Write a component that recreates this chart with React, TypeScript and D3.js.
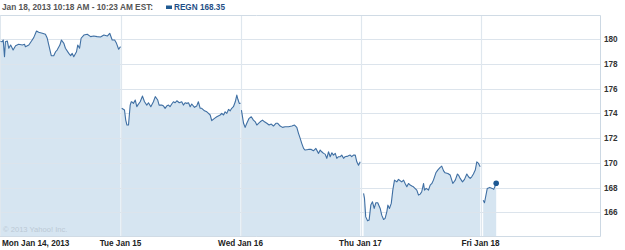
import React from "react";
import * as d3 from "d3";

const dayLabels = ["Mon Jan 14, 2013", "Tue Jan 15", "Wed Jan 16", "Thu Jan 17", "Fri Jan 18"];
const yTicks = [166, 168, 170, 172, 174, 176, 178, 180];
const headerText = "Jan 18, 2013 10:18 AM - 10:23 AM EST:";
const legendText = "REGN 168.35";
const copyright = "\u00A9 2013 Yahoo! Inc.";
const SESSION = 390;

// [minute since open, price]
const mon: [number, number][] = [
  [0, 179.8], [5.5, 179.78], [8.8, 179.92], [13, 178.57], [16, 179.78], [22, 179.84], [27, 179.25],
  [33, 179.51], [41, 179.11], [49, 179.46], [59, 179.57], [71, 179.51], [78, 179.57], [81, 179.38],
  [92, 179.51], [103, 179.92], [108, 180.11], [117, 180.65], [124, 180.54], [136, 180.46],
  [146, 180.38], [152, 180.06], [157, 179.51], [165, 178.65], [173, 178.65], [179, 178.97],
  [184, 179.11], [193, 179.51], [198, 179.92], [206, 179.65], [211, 179.25], [222, 178.84],
  [228, 178.65], [233, 178.84], [238, 178.57], [247, 178.97], [251, 179.51], [257, 179.25],
  [262, 180.06], [271, 180.32], [282, 180.38], [293, 180.19], [303, 180.24], [314, 180.19],
  [325, 180.16], [336, 180.32], [347, 180.24], [355, 180.46], [363, 179.92], [371, 179.92],
  [377, 179.65], [384, 179.17], [390, 179.38],
];
const tue: [number, number][] = [
  [4, 174.4], [13, 174.26], [17, 173.45], [21, 173.05], [26, 173.05], [31.5, 174.66], [35, 174.93],
  [37, 174.93], [42, 174.8], [48, 175.07], [53, 174.53], [56, 174.66], [64, 174.93], [71.5, 175.39],
  [78, 174.93], [85.5, 174.66], [91, 174.85], [98.5, 174.53], [107, 174.93], [113, 175.34],
  [121, 175.07], [125.5, 174.66], [134, 174.66], [140, 174.58], [145, 174.4], [150, 174.58],
  [156, 174.66], [161, 174.53], [166.5, 174.75], [172, 174.93], [177.5, 174.85], [183, 175.01],
  [191, 174.85], [199, 174.93], [204.5, 174.66], [210, 174.85], [215.5, 174.8], [221, 174.85],
  [226.5, 174.53], [231.5, 174.75], [240.5, 174.48], [247.5, 174.58], [253, 174.93], [259, 174.4],
  [264, 174.4], [273, 174.2], [280.5, 174.12], [286, 173.99], [291.5, 173.86], [296.5, 173.4],
  [305.5, 173.59], [313, 173.72], [324, 173.86], [329, 173.99], [335, 173.86], [340, 174.12],
  [345.5, 173.99], [351, 174.31], [356.5, 174.2], [361.5, 174.4], [367, 174.53], [373, 174.93],
  [378, 175.47], [381.5, 175.13], [386, 174.8], [390, 174.8],
];
const wed: [number, number][] = [
  [3, 174.26], [10, 173.19], [15, 172.86], [20.5, 173.19], [28, 173.59], [35, 173.72], [42, 173.45],
  [48, 173.31], [53, 173.05], [58.5, 173.19], [64, 173.31], [71.5, 173.45], [78, 173.31],
  [85.5, 173.19], [93, 173.05], [100, 173.13], [107, 172.97], [115, 173.19], [121, 173.19],
  [129, 172.97], [136.5, 172.86], [145, 172.91], [156, 172.91], [167, 172.97], [175.5, 173.05],
  [183, 172.86], [188.5, 172.38], [194, 171.97], [199, 171.57], [205, 171.16], [210, 171.03],
  [221, 171.08], [230, 171.08], [237, 170.97], [245, 171.16], [253.5, 170.76], [259, 171.03],
  [264, 170.89], [270, 170.76], [275, 170.7], [280.5, 170.36], [286, 170.89], [291.5, 170.49],
  [297, 170.81], [302, 170.62], [308, 170.76], [313, 170.36], [318.5, 170.49], [324, 170.49],
  [329, 170.62], [335, 170.36], [340, 170.49], [349, 170.54], [356.5, 170.62], [361.5, 170.49],
  [367, 170.62], [373, 170.62], [378, 170.08], [383.5, 169.81], [389, 170.08],
];
const thu: [number, number][] = [
  [10, 167.53], [13, 167.12], [17, 165.63], [23, 165.31], [28, 165.37], [33.5, 166.58], [39, 166.85],
  [44.5, 166.31], [50, 166.77], [56, 166.77], [64, 166.31], [69, 165.77], [75, 165.42], [80, 165.51],
  [85.5, 166.04], [89, 166.58], [94, 166.31], [100, 166.72], [105, 167.79], [110.5, 168.6],
  [118, 168.46], [123.5, 168.66], [129, 168.55], [134, 168.46], [140, 168.6], [145, 168.33],
  [150.5, 168.06], [156, 168.33], [161.5, 168.2], [167, 168.12], [172, 168.06], [183, 167.79],
  [188.5, 167.39], [194, 167.47], [199, 167.66], [205, 168.33], [208, 167.79], [213.5, 167.93],
  [221, 167.79], [226.5, 168.2], [232, 168.33], [237, 168.6], [245, 169.19], [251, 169.41],
  [259, 169.63], [264, 169.73], [270, 169.35], [275, 169.19], [284, 169.14], [291.5, 169.01],
  [300, 168.33], [308, 168.6], [315, 169.09], [318.5, 169.01], [324, 168.74], [331.5, 168.46],
  [338, 168.66], [345.5, 169.09], [351, 168.87], [356.5, 168.74], [361.5, 168.87], [367, 169.09],
  [373, 169.41], [378, 170.08], [383.5, 169.95], [389, 169.68],
];
const fri: [number, number][] = [
  [8.8, 166.98], [13, 166.77], [22, 167.93], [30, 168.01], [38, 167.93], [43, 167.85], [51, 168.35],
];
const days = [mon, tue, wed, thu, fri];

const W = 625;
const H = 250;
const plotL = 0.5;
const plotR = 600.5;
const plotT = 15.5;
const plotB = 236.5;

const FONT = "'Liberation Sans', Arial, sans-serif";

export default function App() {
  const x = d3.scaleLinear().domain([0, 5 * SESSION]).range([plotL, plotR]);
  const y = d3.scaleLinear().domain([166, 180]).range([212.3, 39]);

  const line = d3
    .line<[number, number]>()
    .x((d) => d[0])
    .y((d) => d[1]);
  const area = d3
    .area<[number, number]>()
    .x((d) => d[0])
    .y0(plotB)
    .y1((d) => d[1]);

  const segs = days.map((pts, i) =>
    pts.map((p) => [x(i * SESSION + p[0]), y(p[1])] as [number, number])
  );
  const last = segs[4][segs[4].length - 1];

  return (
    <div style={{ position: "fixed", left: 0, top: 0, width: W, height: H, background: "#fff" }}>
      <svg width={W} height={H} style={{ display: "block" }}>
        <rect x={0} y={0} width={W} height={H} fill="#fff" />
        {segs.map((s, i) => (
          <path key={"a" + i} d={area(s) || ""} fill="#d6e5f1" />
        ))}
        {yTicks.map((t) => (
          <line
            key={"g" + t}
            x1={plotL}
            x2={plotR}
            y1={Math.round(y(t)) + 0.5}
            y2={Math.round(y(t)) + 0.5}
            stroke="#dce4ec"
            strokeWidth={1.2}
          />
        ))}
        {[1, 2, 3, 4].map((i) => (
          <line
            key={"v" + i}
            x1={Math.round(x(i * SESSION)) + 0.5}
            x2={Math.round(x(i * SESSION)) + 0.5}
            y1={plotT}
            y2={plotB}
            stroke="#dfe7ee"
            strokeWidth={1.2}
          />
        ))}
        <line x1={0} x2={plotR} y1={plotT} y2={plotT} stroke="#d0dbe5" />
        <line x1={plotR} x2={plotR} y1={plotT} y2={plotB} stroke="#ccd8e3" />
        <line x1={plotL} x2={plotL} y1={plotT} y2={plotB} stroke="#dfe7ee" />
        <line x1={0} x2={plotR} y1={plotB} y2={plotB} stroke="#d0dbe5" />
        {segs.map((s, i) => (
          <path key={"l" + i} d={line(s) || ""} fill="none" stroke="#3f6fa3" strokeWidth={1.1} strokeLinejoin="round" />
        ))}
        <circle cx={last[0]} cy={last[1]} r={2.8} fill="#1d5893" />
        <text x={3} y={232} fontFamily={FONT} fontSize={7.6} fill="#bcc9d5">
          {copyright}
        </text>
        {yTicks.map((t) => (
          <text key={"t" + t} x={604} y={y(t) + 3} fontFamily={FONT} fontSize={8.2} fontWeight="bold" fill="#333">
            {t}
          </text>
        ))}
        {dayLabels.map((l, i) => (
          <text
            key={"d" + i}
            x={i === 0 ? 2 : x(i * SESSION)}
            y={246}
            textAnchor={i === 0 ? "start" : "middle"}
            fontFamily={FONT}
            fontSize={8.2}
            fontWeight="bold"
            fill="#222"
          >
            {l}
          </text>
        ))}
        <text x={2} y={10} fontFamily={FONT} fontSize={8.3} fontWeight="bold" fill="#555">
          {headerText}
        </text>
        <rect x={166} y={5.5} width={6} height={3.5} fill="#1f5a92" />
        <text x={174} y={10} fontFamily={FONT} fontSize={8.2} fontWeight="bold" fill="#1f4f86">
          {legendText}
        </text>
      </svg>
    </div>
  );
}
